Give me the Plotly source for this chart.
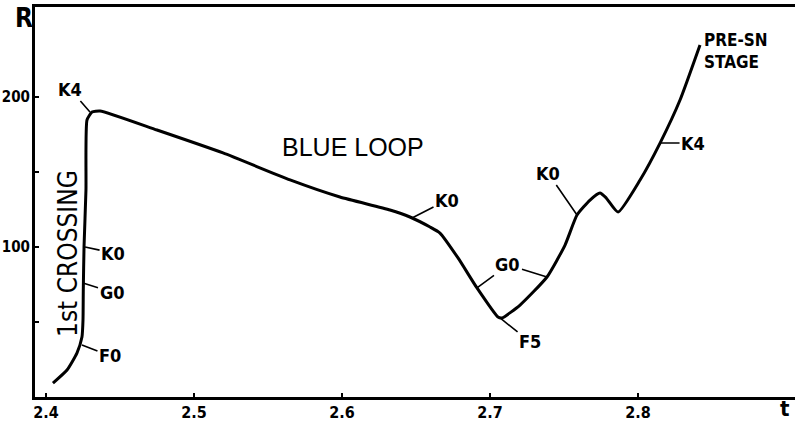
import plotly.graph_objects as go

# Evolutionary track: radius R vs time t
t_vals = [2.4047, 2.4142, 2.4209, 2.4243, 2.4250, 2.4252, 2.4257, 2.4270, 2.4277, 2.4311,
          2.4365, 2.4750, 2.5196, 2.5649, 2.5986, 2.6324, 2.6459, 2.6595, 2.6662, 2.6784,
          2.6912, 2.7054, 2.7081, 2.7203, 2.7385, 2.7507, 2.7588, 2.7676, 2.7743, 2.7785,
          2.7865, 2.8014, 2.8149, 2.8284, 2.8419]
R_vals = [9.3, 18.0, 29.3, 40.0, 51.3, 71.3, 100.0, 138.0, 184.7, 190.0,
          190.7, 178.0, 162.7, 144.7, 133.3, 124.7, 120.0, 113.3, 109.3, 92.7,
          72.7, 53.3, 52.7, 61.3, 80.0, 101.3, 121.3, 131.3, 136.0, 132.7,
          123.3, 144.7, 169.3, 198.0, 234.7]

# Spectral-type marks along the track
mark_text = ["K4", "K0", "G0", "F0", "K0", "G0", "G0", "F5", "K0", "K4"]
mark_t = [2.4297, 2.4264, 2.4250, 2.4243, 2.6473, 2.6912, 2.7385, 2.7068, 2.7588, 2.8149]
mark_R = [190.0, 100.0, 76.0, 34.7, 119.3, 72.7, 80.0, 52.7, 121.3, 169.3]

x_ticks = [2.4, 2.5, 2.6, 2.7, 2.8]
x_tick_labels = ["2.4", "2.5", "2.6", "2.7", "2.8"]
y_ticks = [50, 100, 150, 200]
y_tick_labels = ["", "100", "", "200"]

FONT = "DejaVu Sans Condensed, Liberation Sans Narrow, sans-serif"

# label offsets (pixels) and visibility
offsets = [(-20, -23), (28, 6), (29, 9), (28, 11), (35, -18), (31, -23), (-39, -12),
           (30, 24), (-29, -42), (33, 0)]
visible = [True, True, True, True, True, True, False, True, True, True]

fig = go.Figure()
fig.add_trace(go.Scatter(x=t_vals, y=R_vals, mode="lines",
                         line=dict(color="black", width=3, shape="spline", smoothing=0.5),
                         hoverinfo="skip", showlegend=False))

annotations = []
for txt, tx, ry, (dx, dy), vis in zip(mark_text, mark_t, mark_R, offsets, visible):
    annotations.append(dict(
        x=tx, y=ry, xref="x", yref="y", text=txt, showarrow=True,
        ax=dx, ay=dy, arrowhead=0, arrowwidth=1.6, arrowcolor="black", standoff=0,
        font=dict(family=FONT, size=18, color="black" if vis else "rgba(0,0,0,0)", weight="bold"),
    ))

annotations += [
    dict(x=2.41486, y=96, xref="x", yref="y", text="1st CROSSING", textangle=-90,
         showarrow=False, font=dict(family=FONT, size=26, color="black")),
    dict(x=2.6074, y=166.7, xref="x", yref="y", text="BLUE LOOP",
         showarrow=False, font=dict(family="Liberation Sans, Arial, sans-serif", size=25, color="black")),
    dict(x=2.8433, y=231, xref="x", yref="y", text="PRE-SN<br>STAGE", xanchor="left", align="left",
         showarrow=False, font=dict(family=FONT, size=17, color="black", weight="bold")),
    dict(x=-0.015, y=0.972, xref="paper", yref="paper", text="R", showarrow=False,
         xanchor="center", yanchor="middle",
         font=dict(family=FONT, size=26, color="black", weight="bold")),
    dict(x=0.987, y=-0.03, xref="paper", yref="paper", text="t", showarrow=False,
         xanchor="center", yanchor="middle",
         font=dict(family=FONT, size=22, color="black", weight="bold")),
]

fig.update_layout(
    width=795, height=423,
    margin=dict(l=35, r=0, t=7, b=26),
    paper_bgcolor="white", plot_bgcolor="white",
    showlegend=False,
    annotations=annotations,
    xaxis=dict(range=[2.39257, 2.90608], tickvals=x_ticks, ticktext=x_tick_labels,
               automargin=False, ticklabelstandoff=-1,
               showgrid=False, zeroline=False, showline=True, linecolor="black", linewidth=3,
               mirror=True, ticks="inside", ticklen=4, tickwidth=2, tickcolor="black",
               tickfont=dict(family=FONT, size=16, color="black", weight="bold")),
    yaxis=dict(range=[0, 260], tickvals=y_ticks, ticktext=y_tick_labels,
               automargin=False, ticklabelstandoff=-1,
               showgrid=False, zeroline=False, showline=True, linecolor="black", linewidth=3,
               ticks="inside", ticklen=4, tickwidth=2, tickcolor="black",
               tickfont=dict(family=FONT, size=15, color="black", weight="bold")),
)

# remove the default page margin so the figure fills the 795x423 window exactly
fig.write_html("out.html", config={"displayModeBar": False},
               post_script="document.body.style.margin='0';")
